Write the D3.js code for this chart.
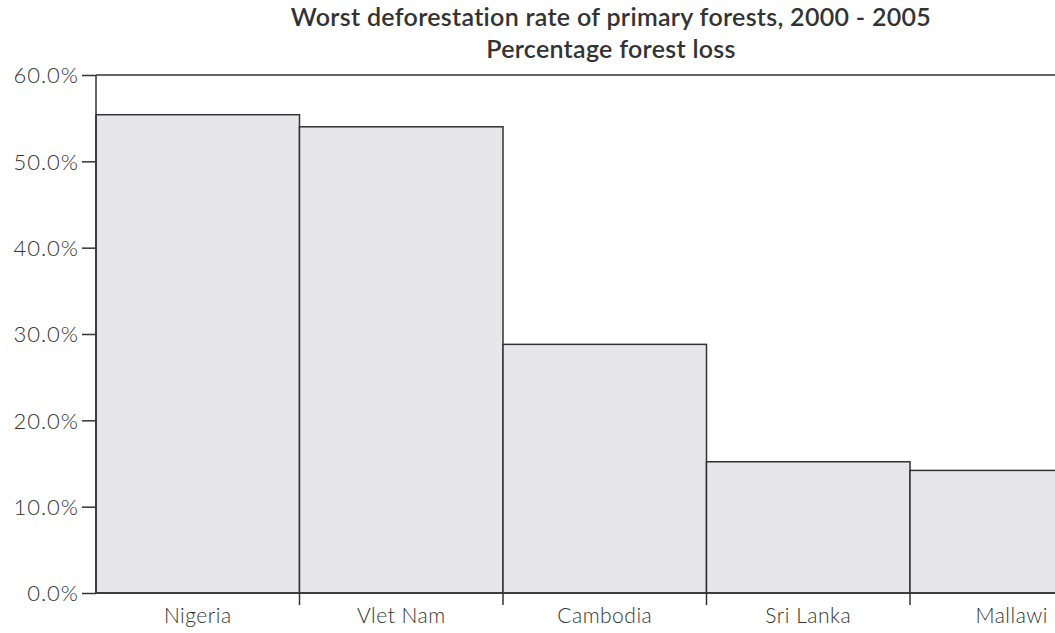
<!DOCTYPE html>
<html>
<head>
<meta charset="utf-8">
<script src="https://cdn.jsdelivr.net/npm/d3@7"></script>
<style>
  body { margin: 0; background: #fff; }
  svg { display: block; font-family: Lato, "Open Sans", sans-serif; }
</style>
</head>
<body>
<div id="chart"></div>
<script>
// chart data
const countries = ['Nigeria', 'Vlet Nam', 'Cambodia', 'Sri Lanka', 'Mallawi'];
const forestLoss = [55.4, 54.0, 28.8, 15.2, 14.2];
const yTicks = [0, 10, 20, 30, 40, 50, 60];
const titleLines = ['Worst deforestation rate of primary forests, 2000 - 2005', 'Percentage forest loss'];

const width = 1055;
const height = 633;
const margin = { top: 75, left: 96, bottom: 40 };
const plotBottom = height - margin.bottom;
const fontFamily = 'Lato, "Open Sans", sans-serif';

const svg = d3.select('#chart').append('svg')
  .attr('width', width)
  .attr('height', height);

// plot goes past the right edge like the cropped scan
const x = d3.scaleBand()
  .domain(countries)
  .range([margin.left, margin.left + 5 * 203.5])
  .padding(0);

const y = d3.scaleLinear()
  .domain([0, 60])
  .range([plotBottom, margin.top]);

// title
svg.selectAll('.title')
  .data(titleLines)
  .enter().append('text')
  .attr('class', 'title')
  .attr('x', 611)
  .attr('y', (d, i) => 26 + i * 32)
  .attr('text-anchor', 'middle')
  .attr('font-size', 25)
  .attr('font-weight', 600)
  .attr('letter-spacing', 0.3)
  .attr('fill', '#333')
  .text(d => d);

// bars
svg.selectAll('.bar')
  .data(forestLoss)
  .enter().append('rect')
  .attr('class', 'bar')
  .attr('x', (d, i) => x(countries[i]))
  .attr('y', d => y(d))
  .attr('width', x.bandwidth())
  .attr('height', d => plotBottom - y(d))
  .attr('fill', '#e7e7ea')
  .attr('stroke', '#333')
  .attr('stroke-width', 1.5);

// top frame line
svg.append('line')
  .attr('x1', margin.left).attr('x2', width)
  .attr('y1', y(60)).attr('y2', y(60))
  .attr('stroke', '#333')
  .attr('stroke-width', 1.5);

// y axis
const yAxis = svg.append('g')
  .attr('transform', `translate(${margin.left},0)`)
  .call(d3.axisLeft(y).tickValues(yTicks).tickSize(14).tickPadding(3)
    .tickFormat(d => d.toFixed(1) + '%'))
  .attr('font-family', fontFamily)
  .attr('font-size', 22)
  .attr('font-weight', 300);
yAxis.selectAll('line, path').attr('stroke', '#333').attr('stroke-width', 1.5);
yAxis.select('.domain').attr('d', `M0,${y(60)}V${plotBottom}`);
yAxis.selectAll('text').attr('fill', '#333').attr('letter-spacing', 1).attr('dy', '0.35em');

// x axis: labels centred, ticks at bar boundaries
const xAxis = svg.append('g')
  .attr('transform', `translate(0,${plotBottom})`)
  .call(d3.axisBottom(x).tickSize(0).tickPadding(15))
  .attr('font-family', fontFamily)
  .attr('font-size', 21)
  .attr('font-weight', 300);
xAxis.select('.domain').attr('d', `M${margin.left},0H${width}`)
  .attr('stroke', '#333').attr('stroke-width', 1.5);
xAxis.selectAll('text').attr('fill', '#333').attr('letter-spacing', 0.5);

xAxis.selectAll('.sep')
  .data(countries.slice(1))
  .enter().append('line')
  .attr('class', 'sep')
  .attr('x1', d => x(d)).attr('x2', d => x(d))
  .attr('y1', 0).attr('y2', 12)
  .attr('stroke', '#333')
  .attr('stroke-width', 1.5);
</script>
</body>
</html>
